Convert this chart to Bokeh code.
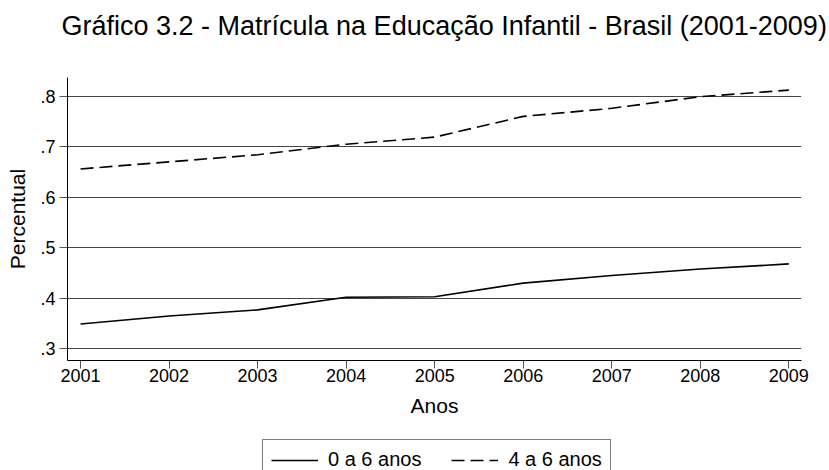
from bokeh.plotting import figure
from bokeh.models import Range1d, FixedTicker, Legend, LegendItem, Title
from bokeh.layouts import column
from bokeh.embed import file_html
from bokeh.resources import INLINE

years = [2001, 2002, 2003, 2004, 2005, 2006, 2007, 2008, 2009]
idade_0_6 = [0.349, 0.365, 0.377, 0.402, 0.403, 0.430, 0.445, 0.458, 0.468]
idade_4_6 = [0.656, 0.670, 0.684, 0.705, 0.719, 0.760, 0.776, 0.799, 0.812]
y_ticks = [0.3, 0.4, 0.5, 0.6, 0.7, 0.8]
y_tick_labels = [".3", ".4", ".5", ".6", ".7", ".8"]
series_names = ["0 a 6 anos", "4 a 6 anos"]
title_text = "Gráfico 3.2 - Matrícula na Educação Infantil - Brasil (2001-2009)"

FONT = "Liberation Sans"
DASH = "13 6"
LW = 1.6

p = figure(width=829, height=430, output_backend="svg", toolbar_location=None,
           x_range=Range1d(2000.853, 2009.143), y_range=Range1d(0.2768, 0.837),
           min_border_left=67, min_border_right=28, min_border_top=77, min_border_bottom=70,
           title=None)

# spacer between frame and title, then the title itself
p.add_layout(Title(text=" ", text_font_size="1px", standoff=29), "above")
p.add_layout(Title(text=title_text, align="left", offset=-6, text_font=FONT,
                   text_font_size="27px", text_font_style="normal",
                   text_color="black", standoff=10), "above")

p.outline_line_color = None
p.background_fill_color = "white"
p.border_fill_color = "white"

p.line(years, idade_0_6, line_color="black", line_width=LW)
p.line(years, idade_4_6, line_color="black", line_width=LW, line_dash=DASH)

xa = p.xaxis[0]
xa.ticker = FixedTicker(ticks=years)
xa.axis_label = "Anos"
ya = p.yaxis[0]
ya.ticker = FixedTicker(ticks=y_ticks)
ya.major_label_overrides = {t: l for t, l in zip(y_ticks, y_tick_labels)}
ya.axis_label = "Percentual"

for ax in (xa, ya):
    ax.axis_line_color = "black"
    ax.axis_line_width = 1
    ax.major_tick_line_color = "#555555"
    ax.major_tick_out = 8
    ax.major_tick_in = 0
    ax.minor_tick_line_color = None
    ax.major_label_text_font = FONT
    ax.major_label_text_font_size = "18px"
    ax.major_label_text_color = "black"
    ax.axis_label_text_font = FONT
    ax.axis_label_text_font_size = "21px"
    ax.axis_label_text_font_style = "normal"
    ax.axis_label_text_color = "black"
xa.major_label_standoff = 0
xa.axis_label_standoff = 9
ya.major_label_standoff = 4
ya.axis_label_standoff = 8

p.xgrid.grid_line_color = None
p.ygrid.ticker = FixedTicker(ticks=y_ticks)
p.ygrid.grid_line_color = "#444444"
p.ygrid.grid_line_width = 1

# legend strip below the chart (its own lines lie outside its visible range)
leg = figure(width=829, height=40, output_backend="svg", toolbar_location=None,
             x_axis_type=None, y_axis_type=None,
             x_range=Range1d(2000.853, 2009.143), y_range=Range1d(2, 3),
             min_border=0, title=None)
leg.outline_line_color = None
leg.xgrid.grid_line_color = None
leg.ygrid.grid_line_color = None
leg.background_fill_color = "white"
leg.border_fill_color = "white"
k1 = leg.line(years, idade_0_6, line_color="black", line_width=LW)
k2 = leg.line(years, idade_4_6, line_color="black", line_width=LW, line_dash=DASH)

legend = Legend(items=[LegendItem(label=series_names[0], renderers=[k1]),
                       LegendItem(label=series_names[1], renderers=[k2])],
                orientation="horizontal", location=(195, -10))
legend.label_text_font = FONT
legend.label_text_font_size = "20px"
legend.label_text_color = "black"
legend.border_line_color = "black"
legend.border_line_width = 1
legend.glyph_width = 47
legend.glyph_height = 20
legend.label_height = 20
legend.label_standoff = 10
legend.spacing = 30
legend.padding = 8
legend.margin = 0
legend.background_fill_color = "white"
legend.background_fill_alpha = 1
leg.add_layout(legend, "center")

layout = column(p, leg, spacing=0)
open("out.html", "w").write(file_html(layout, INLINE))
